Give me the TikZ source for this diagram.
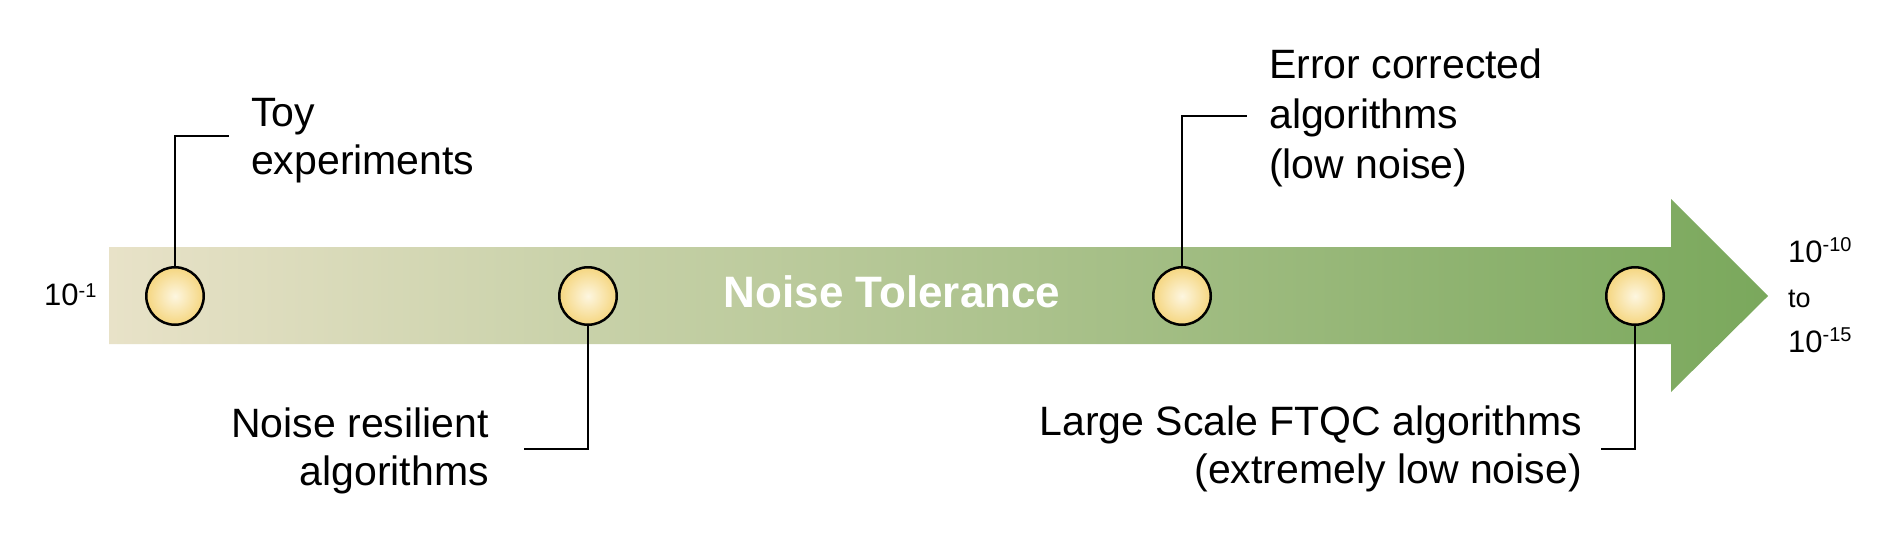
\documentclass[tikz,border=0pt]{standalone}
\usepackage{fontspec}
\setmainfont{Liberation Sans}
\definecolor{barL}{RGB}{232,226,200}
\definecolor{barR}{RGB}{122,168,92}
\definecolor{dotIn}{RGB}{253,246,224}
\definecolor{dotOut}{RGB}{245,214,128}
\newcommand\supnum[2]{\raisebox{#2}{\fontsize{20}{20}\selectfont #1}}
\tikzset{
  dot/.style={circle, draw=black, line width=2.5pt, inner sep=0pt, minimum size=57.5pt,
    inner color=dotIn, outer color=dotOut},
  lbl/.style={inner sep=0pt, font=\fontsize{41}{48}\selectfont},
  leader/.style={draw=black, line width=2pt},
  ticklbl/.style={inner sep=0pt, font=\fontsize{31}{45}\selectfont},
}
\begin{document}
\begin{tikzpicture}[x=1pt,y=-1pt]
\useasboundingbox[fill=white] (0,0) rectangle (1892,536);
% arrow
\path[left color=barL, right color=barR] (109,247) -- (1671,247) -- (1671,199) -- (1768,296)
  -- (1671,392) -- (1671,344) -- (109,344) -- cycle;
\node[inner sep=0pt, text=white, font=\fontsize{44}{44}\selectfont\bfseries, anchor=base] (title) at (892,307) {Noise Tolerance};
% dots
\node[dot] (c1) at (175,296) {};
\node[dot] (c2) at (588,296) {};
\node[dot] (c3) at (1182,296) {};
\node[dot] (c4) at (1635,296) {};
% labels
\node[lbl, align=left, anchor=north west] (l1) at (251,98) {Toy\\experiments};
\node[lbl, align=right, anchor=north east] (l2) at (489,408) {Noise resilient\\algorithms};
\node[lbl, align=left, anchor=north west, font=\fontsize{41}{50}\selectfont] (l3) at (1269,49) {Error corrected\\algorithms\\(low noise)};
\node[lbl, align=right, anchor=north east] (l4) at (1582,406) {Large Scale FTQC algorithms\\(extremely low noise)};
% leader ends
\coordinate (e1) at (229,136);
\coordinate (e2) at (524,449);
\coordinate (e3) at (1247,116);
\coordinate (e4) at (1601,449);
\draw[leader] (c1.north) |- (e1);
\draw[leader] (c2.south) |- (e2);
\draw[leader] (c3.north) |- (e3);
\draw[leader] (c4.south) |- (e4);
% scale labels
\node[ticklbl, anchor=base west] (lo) at (44,305) {10\supnum{-1}{8pt}};
\node[ticklbl, align=left, anchor=north west] (hi) at (1788,237) {10\supnum{-10}{11pt}\\{\fontsize{27}{45}\selectfont to}\\10\supnum{-15}{11pt}};
\end{tikzpicture}
\end{document}
